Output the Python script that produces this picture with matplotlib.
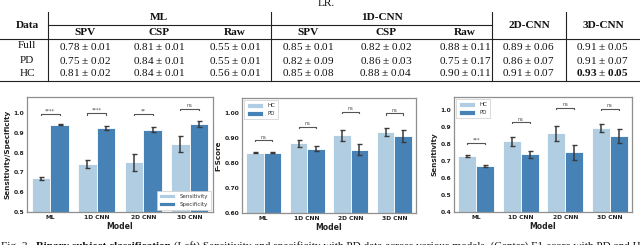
import matplotlib
matplotlib.use('Agg')
import matplotlib.pyplot as plt
from matplotlib.lines import Line2D
import numpy as np

W, H = 640, 245
fig = plt.figure(figsize=(6.4, 2.45), dpi=100)


def fx(x):
    return x / W


def fy(y):
    return 1 - y / H


# ---------------- table data ----------------
row_labels = ['Full', 'PD', 'HC']
group_labels = ['ML', '1D-CNN', '2D-CNN', '3D-CNN']
sub_labels = ['SPV', 'CSP', 'Raw', 'SPV', 'CSP', 'Raw']
table_mean = [[0.78, 0.81, 0.55, 0.85, 0.82, 0.88, 0.89, 0.91],
              [0.75, 0.84, 0.55, 0.82, 0.86, 0.75, 0.86, 0.91],
              [0.81, 0.84, 0.56, 0.85, 0.88, 0.90, 0.91, 0.93]]
table_std = [[0.01, 0.01, 0.01, 0.01, 0.02, 0.11, 0.06, 0.05],
             [0.02, 0.01, 0.01, 0.09, 0.03, 0.17, 0.07, 0.07],
             [0.02, 0.01, 0.01, 0.08, 0.04, 0.11, 0.07, 0.05]]

# ---------------- bar chart data ----------------
models = ['ML', '1D CNN', '2D CNN', '3D CNN']
sens_mean = [0.670, 0.740, 0.750, 0.845]
sens_err = [0.007, 0.020, 0.043, 0.040]
spec_mean = [0.941, 0.922, 0.915, 0.946]
spec_err = [0.003, 0.010, 0.012, 0.015]
sig_left = ['****', '****', '**', 'ns']
sig_left_y = [0.995, 0.998, 0.995, 1.020]

f1_hc_mean = [0.843, 0.880, 0.913, 0.925]
f1_hc_err = [0.003, 0.013, 0.022, 0.016]
f1_pd_mean = [0.843, 0.858, 0.855, 0.910]
f1_pd_err = [0.003, 0.010, 0.022, 0.025]
sig_mid = ['ns', 'ns', 'ns', 'ns']
sig_mid_y = [0.893, 0.947, 1.007, 1.000]

sn_hc_mean = [0.730, 0.815, 0.862, 0.895]
sn_hc_err = [0.005, 0.025, 0.043, 0.025]
sn_pd_mean = [0.670, 0.740, 0.750, 0.845]
sn_pd_err = [0.007, 0.020, 0.045, 0.040]
sig_right = ['***', 'ns', 'ns', 'ns']
sig_right_y = [0.808, 0.929, 1.013, 1.007]

light = '#b1cde1'
dark = '#4682b5'

# ---------------- table drawing ----------------
serif = 'Liberation Serif'
tfs = 8.1
lc = '#222222'

plt.rcParams['mathtext.fontset'] = 'custom'
plt.rcParams['mathtext.rm'] = serif
plt.rcParams['mathtext.bf'] = serif + ':bold'


def hline(y, x0, x1, lw=0.8):
    fig.add_artist(Line2D([fx(x0), fx(x1)], [fy(y), fy(y)], color=lc, lw=lw,
                          transform=fig.transFigure))


def vline(x, y0, y1, lw=0.8):
    fig.add_artist(Line2D([fx(x), fx(x)], [fy(y0), fy(y1)], color=lc, lw=lw,
                          transform=fig.transFigure))


def ttext(x, y, s, bold=False):
    fig.text(fx(x), fy(y), s, ha='center', va='center', fontsize=tfs,
             family=serif, fontweight='bold' if bold else 'normal', color='#111111')


fig.text(fx(326), fy(6), 'LR.', ha='center', va='baseline', fontsize=tfs,
         family=serif, color='#111111')

col_x = [85, 159, 235, 308, 386, 465, 528, 602]
row_y = [46, 60, 73]
for xv in [48, 271, 492, 566]:
    vline(xv, 12, 81.5)
hline(25, 48, 492)
hline(39.5, 0, 640)
hline(81.5, 0, 640)

ttext(27, 25.5, 'Data', True)
ttext(159, 17.5, group_labels[0], True)
ttext(382, 17.5, group_labels[1], True)
ttext(529, 25.5, group_labels[2], True)
ttext(603, 25.5, group_labels[3], True)
for xv, s in zip(col_x[:6], sub_labels):
    ttext(xv, 32.5, s, True)

tm = np.array(table_mean)
best = np.unravel_index(np.argmax(tm), tm.shape)
for i, lab in enumerate(row_labels):
    ttext(27, row_y[i], lab)
    for j, xv in enumerate(col_x):
        if (i, j) == best:
            s = f'$\\mathbf{{{table_mean[i][j]:.2f}}}$ $\\pm$ $\\mathbf{{{table_std[i][j]:.2f}}}$'
        else:
            s = f'{table_mean[i][j]:.2f} $\\pm$ {table_std[i][j]:.2f}'
        ttext(xv, row_y[i], s, bold=(i, j) == best)


# ---------------- bar charts ----------------
def add_ax(l, t, r, b):
    return fig.add_axes([fx(l), fy(b), fx(r) - fx(l), (b - t) / H])


def draw(ax, m1, e1, m2, e2, labels, sig, sig_y, ylim, yticks, fmt, ylabel, leg_loc):
    x = np.arange(len(models))
    w = 0.4
    ax.bar(x - w / 2, m1, w, color=light, edgecolor='white', linewidth=0.6, label=labels[0])
    ax.bar(x + w / 2, m2, w, color=dark, edgecolor='white', linewidth=0.6, label=labels[1])
    for xs, m, e in [(x - w / 2, m1, e1), (x + w / 2, m2, e2)]:
        ax.errorbar(xs, m, yerr=e, fmt='none', ecolor='#3a3a3a', elinewidth=1.1,
                    capsize=1.8, capthick=1.0)
    rng = ylim[1] - ylim[0]
    h = 0.012 * rng
    for xi, s, yb in zip(x, sig, sig_y):
        ax.plot([xi - w / 2, xi - w / 2, xi + w / 2, xi + w / 2], [yb - h, yb, yb, yb - h],
                color='#555555', lw=0.8)
        ax.text(xi, yb + 0.004 * rng, s, ha='center', va='bottom', fontsize=3.6,
                color='#444444')
    ax.set_xlim(-0.5, 3.5)
    ax.set_ylim(*ylim)
    ax.set_yticks(yticks)
    ax.set_yticklabels([fmt % v for v in yticks])
    ax.set_xticks(x)
    ax.set_xticklabels(models)
    ax.tick_params(length=0, pad=2, labelsize=4.3, colors='#222222')
    for lab in ax.get_xticklabels() + ax.get_yticklabels():
        lab.set_fontweight('bold')
    ax.set_xlabel('Model', fontsize=5.6, fontweight='bold', labelpad=1.5, color='#222222')
    ax.set_ylabel(ylabel, fontsize=5.2, fontweight='bold', labelpad=2, color='#222222')
    for sp in ax.spines.values():
        sp.set_color('#8f8f8f')
        sp.set_linewidth(0.9)
    leg = ax.legend(loc=leg_loc, fontsize=4.0, handlelength=2.8, handleheight=0.9,
                    borderpad=0.5, labelspacing=0.5, borderaxespad=0.4,
                    frameon=True, fancybox=False, edgecolor='#cccccc', framealpha=1)
    leg.get_frame().set_linewidth(0.5)
    for t in leg.get_texts():
        t.set_color('#333333')


ax1 = add_ax(27, 97, 213, 212)
draw(ax1, sens_mean, sens_err, spec_mean, spec_err, ['Sensitivity', 'Specificity'],
     sig_left, sig_left_y, (0.5, 1.08), [0.5, 0.6, 0.7, 0.8, 0.9, 1.0], '%.1f',
     'Sensitivity/Specificity', 'lower right')

ax2 = add_ax(242, 98, 416, 213)
draw(ax2, f1_hc_mean, f1_hc_err, f1_pd_mean, f1_pd_err, ['HC', 'PD'],
     sig_mid, sig_mid_y, (0.6, 1.062), [0.6, 0.7, 0.8, 0.9, 1.0], '%.2f',
     'F-Score', 'upper left')

ax3 = add_ax(454, 97, 632, 212)
draw(ax3, sn_hc_mean, sn_hc_err, sn_pd_mean, sn_pd_err, ['HC', 'PD'],
     sig_right, sig_right_y, (0.4, 1.076), [0.4, 0.5, 0.6, 0.7, 0.8, 0.9, 1.0], '%.1f',
     'Sensitivity', 'upper left')

# ---------------- caption (cut off at bottom, as in the reference) ----------------
cap_parts = [('Fig. 3.  ', 'normal'), ('Binary subject classification', 'bold'),
             (' (Left) Sensitivity and specificity with PD data across various models. '
              '(Center) F1-score with PD and HC data across various models.', 'normal')]
fig.canvas.draw()
r = fig.canvas.get_renderer()
xcur = 1.0
for s, wgt in cap_parts:
    t = fig.text(fx(xcur), fy(241.5), s, ha='left', va='top', fontsize=tfs,
                 family=serif, fontweight=wgt, color='#111111')
    bb = t.get_window_extent(renderer=r)
    xcur += bb.width

fig.savefig('out.png', dpi=100)
